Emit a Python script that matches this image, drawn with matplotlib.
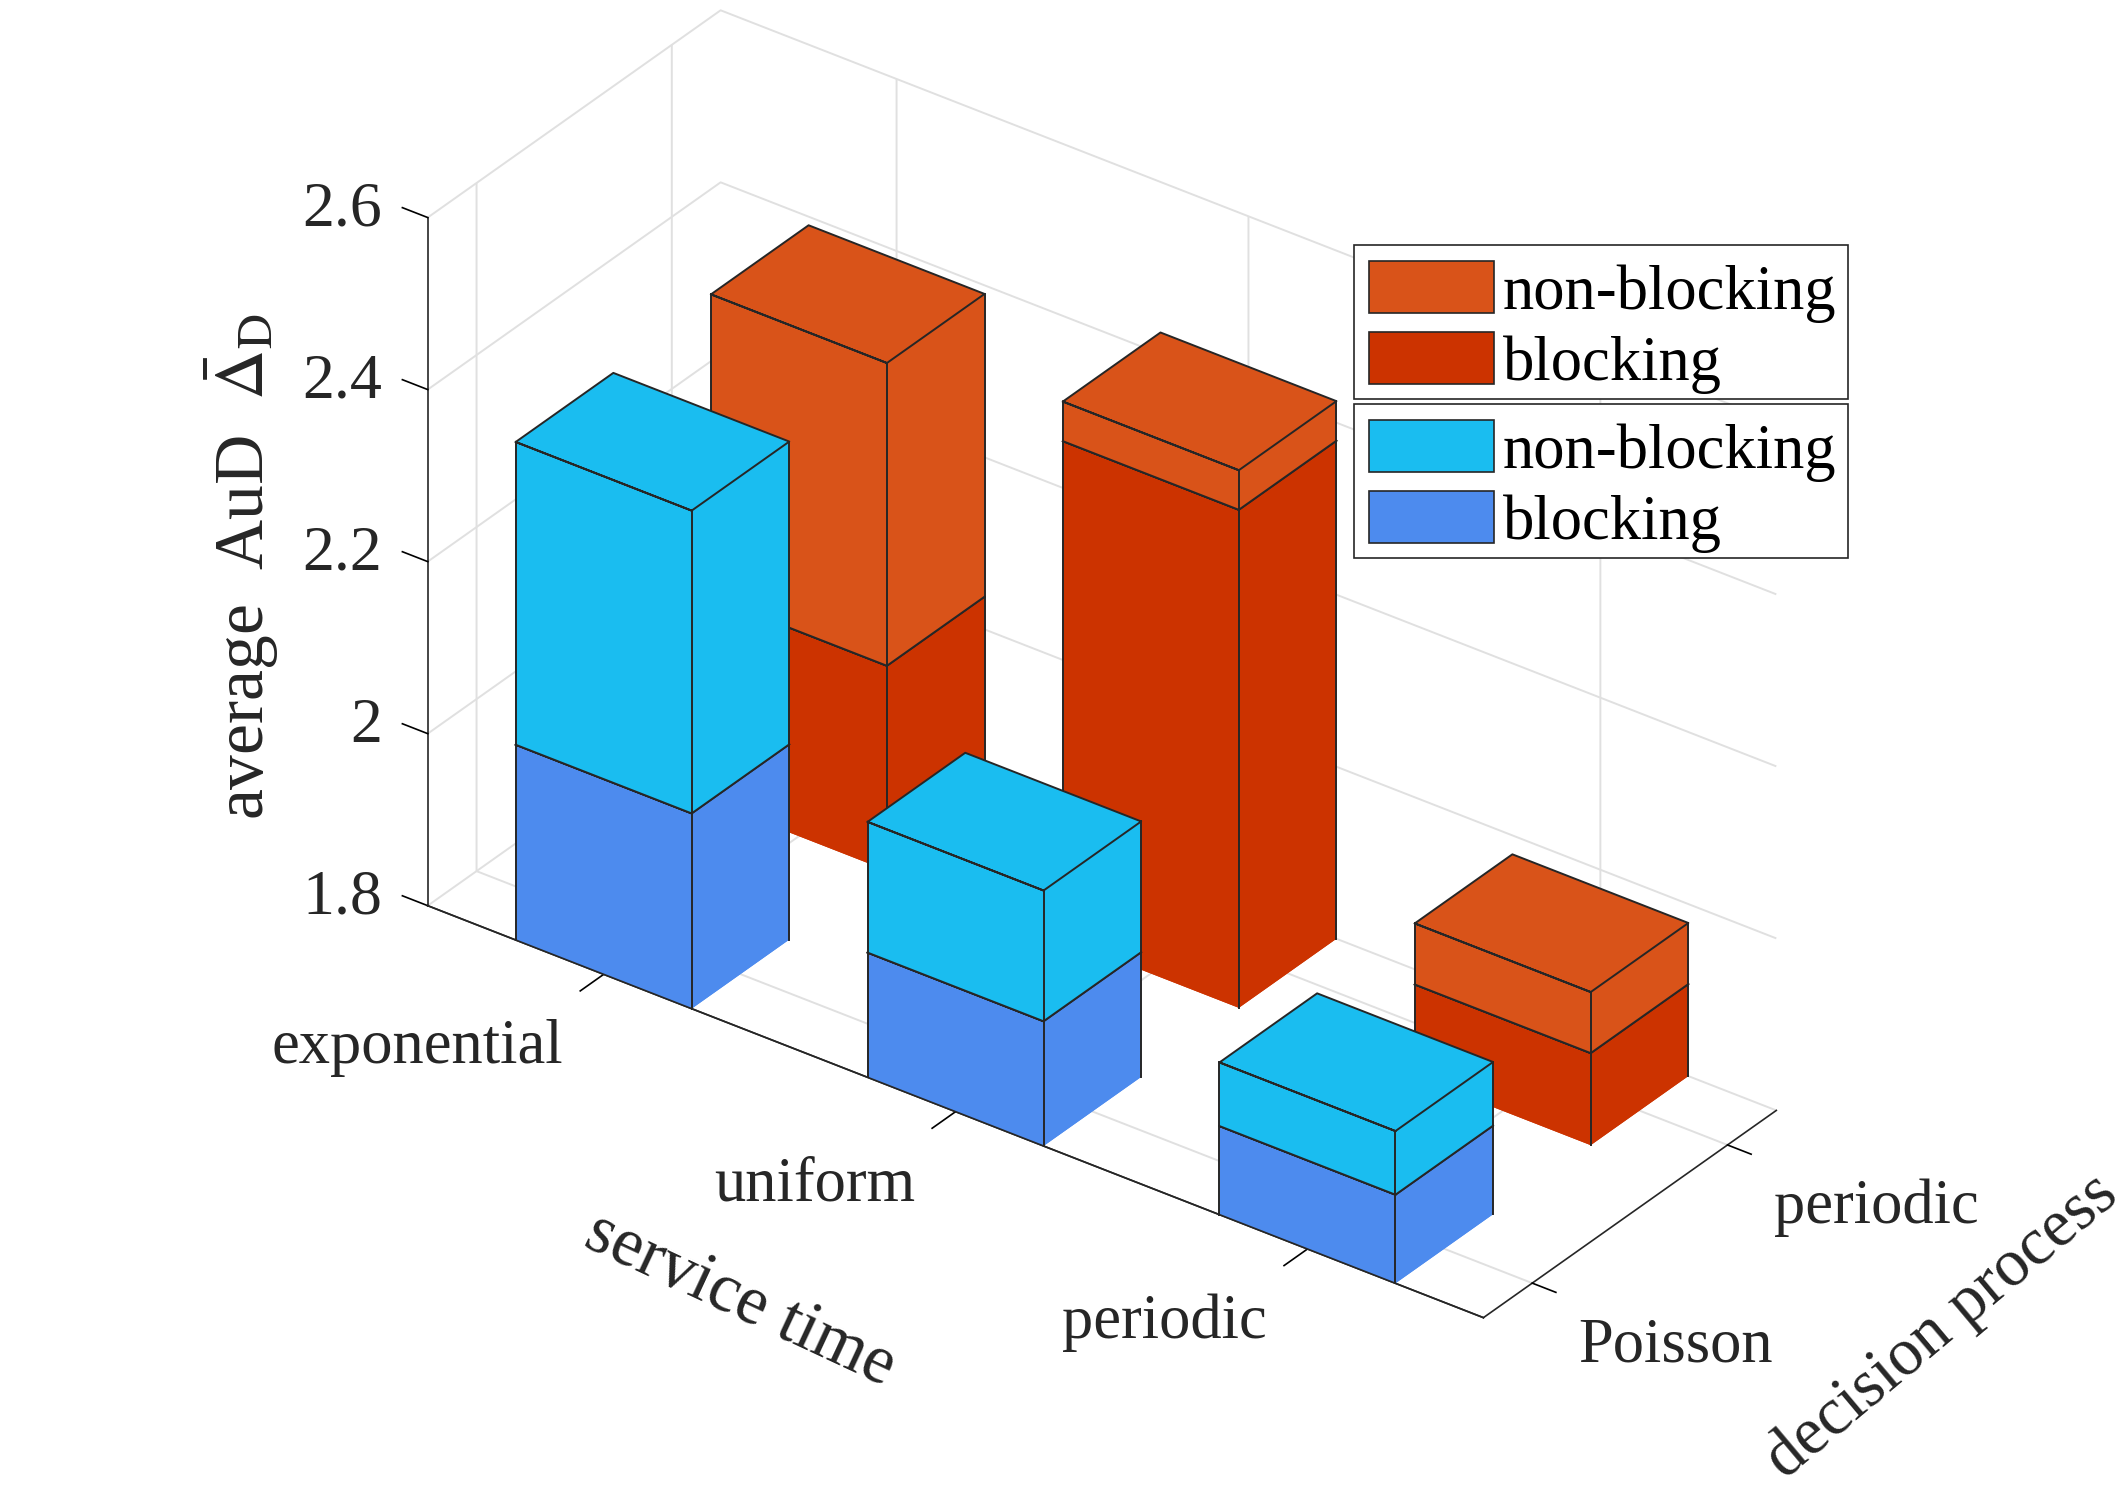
import numpy as np
import matplotlib
matplotlib.use('Agg')
import matplotlib.pyplot as plt
from matplotlib.patches import Patch
from mpl_toolkits.mplot3d import proj3d

plt.rcParams['font.family'] = ['Liberation Serif', 'DejaVu Serif']
plt.rcParams['mathtext.fontset'] = 'stix'

service = ['exponential', 'uniform', 'periodic']
service_pos = [0.5, 1.5, 2.5]
decision = ['Poisson', 'periodic']
decision_pos = [1 / 3, 5 / 3]
z_ticks = [1.8, 2, 2.2, 2.4, 2.6]
z_labels = ['1.8', '2', '2.2', '2.4', '2.6']

# average AuD per service time
poisson_blocking = [2.027, 1.945, 1.903]
poisson_nonblocking = [2.379, 2.097, 1.977]
periodic_blocking = [2.038, 2.379, 1.907]
periodic_nonblocking = [2.390, 2.425, 1.978]

c_orange = '#D95319'
c_red = '#CC3300'
c_cyan = '#1ABDF0'
c_blue = '#4D8BEE'
c_edge = '#262626'
c_text = '#262626'
c_grid = '#E0E0E0'
lw_edge = 1.4

W = 2128
H = 1495
fig = plt.figure(figsize=(W / 100, H / 100), dpi=100)

# square 3d axes, placed so the box lands where it is in the reference
side = 1495
cx, cy = 1102, 831
ax = fig.add_axes([(cx - 0.5135 * side) / W, (cy - 0.5135 * side) / H, side / W, side / H],
                  projection='3d', proj_type='ortho')
ax.view_init(elev=31.7, azim=-53.4)
ax.set_box_aspect((969, 362, 596), zoom=1.052)
ax.computed_zorder = False
ax.patch.set_alpha(0)

ax.set_xlim(0, 3, view_margin=0)
ax.set_ylim(0, 2, view_margin=0)
ax.set_zlim(1.8, 2.6, view_margin=0)

ax.set_xticks(service_pos)
ax.set_xticklabels(['', '', ''])
ax.set_yticks(decision_pos)
ax.set_yticklabels(['', ''])
ax.set_zticks(z_ticks)
ax.set_zticklabels(z_labels, ha='right', va='center', fontsize=46, color=c_text)
ax.zaxis.set_ticks_position('lower')
ax.zaxis._get_tickdir = lambda position: 0  # z ticks run along x, not y
ax.tick_params(axis='z', pad=11)


# mplot3d will not let labels sit off-centre, so they go on as plain text
def put_text(x, y, z, s, **kwargs):
    px, py, _ = proj3d.proj_transform(x, y, z, ax.get_proj())
    return ax.text2D(px, py, s, color=c_text, zorder=50, **kwargs)


for pos, name in zip(service_pos, service):
    put_text(pos, -0.2775, 1.748, name, ha='right', va='center', fontsize=45)
for pos, name in zip(decision_pos, decision):
    put_text(3.131, pos, 1.730, name, ha='left', va='baseline', fontsize=45)
put_text(0.887, 0, 1.483, 'service time', rotation=-25, ha='center', va='center', fontsize=49.5)
put_text(3.4705, 2, 1.624, 'decision process', rotation=40, ha='center', va='center', fontsize=48)
put_text(-0.528, 0, 2.11, r'average  AuD  $\bar{\Delta}_{\mathrm{D}}$', rotation=90,
         ha='center', va='center', fontsize=50)

for axis, factor in ((ax.xaxis, 1.0), (ax.yaxis, 0.28), (ax.zaxis, 0.3)):
    axis.set_pane_color((1, 1, 1, 0))
    axis.pane.set_edgecolor((1, 1, 1, 0))
    axis.line.set_color(c_edge)
    axis.line.set_linewidth(1.2)
    axis._axinfo['grid']['color'] = c_grid
    axis._axinfo['grid']['linewidth'] = 1.4
    axis._axinfo['tick']['color'] = c_edge
    axis._axinfo['tick']['linewidth'] = {True: 1.2, False: 1.2}
    if axis is ax.zaxis:
        axis._axinfo['tick']['outward_factor'] = factor
        axis._axinfo['tick']['inward_factor'] = 0
    else:
        axis._axinfo['tick']['outward_factor'] = 0
        axis._axinfo['tick']['inward_factor'] = factor


def draw_block(x0, y0, z0, z1, color, order, bottom_edge, dx=0.5, dy=2 / 3):
    ax.bar3d(x0, y0, z0, dx, dy, z1 - z0, color=color, shade=False, edgecolor='none', zorder=order)
    x1 = x0 + dx
    y1 = y0 + dy
    xs = [x0, x1, x1, x1, x0, x0, x1]
    ys = [y0, y0, y1, y1, y1, y0, y0]
    ax.plot(xs, ys, [z1] * 7, color=c_edge, lw=lw_edge, zorder=order + 0.5)
    for px, py in ((x0, y0), (x1, y0), (x1, y1)):
        ax.plot([px, px], [py, py], [z0, z1], color=c_edge, lw=lw_edge, zorder=order + 0.5)
    if bottom_edge:
        ax.plot([x0, x1, x1], [y0, y0, y1], [z0] * 3, color=c_edge, lw=lw_edge, zorder=order + 0.5)


order = 10
for i in range(3):
    draw_block(0.25 + i, 4 / 3, 1.8, periodic_blocking[i], c_red, order, False)
    draw_block(0.25 + i, 4 / 3, periodic_blocking[i], periodic_nonblocking[i], c_orange, order + 1, True)
    order += 2
for i in range(3):
    draw_block(0.25 + i, 0, 1.8, poisson_blocking[i], c_blue, order, False)
    draw_block(0.25 + i, 0, poisson_blocking[i], poisson_nonblocking[i], c_cyan, order + 1, True)
    order += 2

# front axis line stays on top of the bars
ax.plot([0, 3], [0, 0], [1.8, 1.8], color=c_edge, lw=1.2, zorder=order + 1)


def add_legend(top, face_top, face_low):
    handles = [Patch(facecolor=face_top, edgecolor=c_edge, lw=1.2, label='non-blocking'),
               Patch(facecolor=face_low, edgecolor=c_edge, lw=1.2, label='blocking')]
    leg = fig.legend(handles=handles, loc='upper left', bbox_to_anchor=(1354 / W, 1 - top / H),
                     fontsize=45, frameon=True, fancybox=False, framealpha=1, edgecolor=c_edge,
                     borderpad=0.17, borderaxespad=0, handlelength=2.06, handleheight=0.9,
                     handletextpad=0.17, labelspacing=0.15, labelcolor='black')
    leg.get_frame().set_linewidth(1.2)
    for t in leg.get_texts():
        t.set_x(-1)
        t.set_y(-6)
    for p in leg.get_patches():
        p.set_x(p.get_x() + 3)
        p.set_y(p.get_y() - 4)
        p.set_width(90)
    return leg


add_legend(245, c_orange, c_red)
add_legend(404, c_cyan, c_blue)

fig.savefig('out.png', dpi=100)
